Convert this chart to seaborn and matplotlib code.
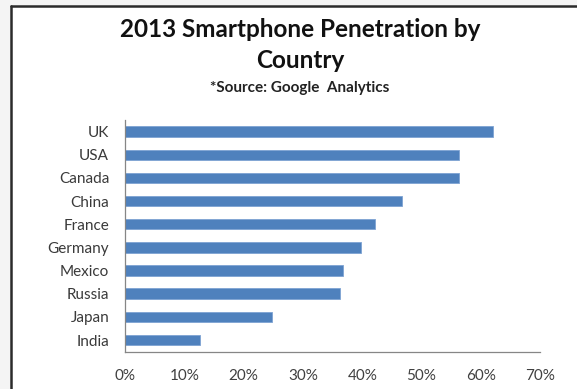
import matplotlib
matplotlib.use("Agg")
import matplotlib.pyplot as plt
from matplotlib.lines import Line2D
from matplotlib.patches import Rectangle
from matplotlib.ticker import FixedLocator, FuncFormatter
import pandas as pd
import seaborn as sns

countries = ["UK", "USA", "Canada", "China", "France", "Germany", "Mexico", "Russia", "Japan", "India"]
penetration = [62.1, 56.4, 56.4, 46.7, 42.2, 39.8, 36.7, 36.2, 24.7, 12.7]
x_ticks = [0, 10, 20, 30, 40, 50, 60, 70]

title_line1 = "2013 Smartphone Penetration by"
title_line2 = "Country"
source_text = "*Source: Google  Analytics"

sns.set_style("white")
plt.rcParams["font.family"] = ["Lato", "DejaVu Sans"]

df = pd.DataFrame({"country": countries, "penetration": penetration})

W, H = 577, 389
fig = plt.figure(figsize=(W / 100, H / 100), dpi=100)
fig.patch.set_facecolor("#f4f4f4")

# white chart area with a dark frame on the left and top
fig.patches.append(Rectangle((11.5 / W, 0), 1 - 11.5 / W, 1 - 5.5 / H,
                             transform=fig.transFigure, facecolor="white",
                             edgecolor="none", zorder=-2))
fig.lines.append(Line2D([11.5 / W, 11.5 / W], [0, 1 - 5.5 / H], transform=fig.transFigure,
                        color="#2b2b2b", lw=1.8, zorder=-1))
fig.lines.append(Line2D([11.5 / W, 1], [1 - 5.5 / H, 1 - 5.5 / H], transform=fig.transFigure,
                        color="#2b2b2b", lw=1.8, zorder=-1))

ax = fig.add_axes([125.2 / W, 1 - 351.6 / H, (540 - 125.2) / W, (351.6 - 120) / H])
ax.set_facecolor("none")

sns.barplot(data=df, x="penetration", y="country", order=countries, orient="h",
            color="#4f81bd", saturation=1, width=0.45, edgecolor="#7ea3d3",
            linewidth=0.6, ax=ax)

ax.set_xlim(0, 70)
ax.set_ylim(len(countries) - 0.5, -0.5)
ax.set_xlabel("")
ax.set_ylabel("")

ax.xaxis.set_major_locator(FixedLocator(x_ticks))
ax.xaxis.set_major_formatter(FuncFormatter(lambda v, p: f"{v:.0f}%"))
ax.tick_params(axis="x", direction="out", length=4, width=0.9, color="#868686",
               labelsize=11, labelcolor="#404040", pad=8.5)

ax.yaxis.set_minor_locator(FixedLocator([i - 0.5 for i in range(len(countries) + 1)]))
ax.tick_params(axis="y", which="major", length=0, labelsize=11, labelcolor="#3a3a3a", pad=11.5)
ax.tick_params(axis="y", which="minor", direction="out", length=4, width=0.9, color="#868686")

for side in ["top", "right"]:
    ax.spines[side].set_visible(False)
for side in ["left", "bottom"]:
    ax.spines[side].set_color("#868686")
    ax.spines[side].set_linewidth(0.9)

fig.text(300 / W, 1 - 37 / H, title_line1, ha="center", va="baseline", fontsize=17.5,
         fontweight="bold", color="#111111")
fig.text(300 / W, 1 - 68.3 / H, title_line2, ha="center", va="baseline", fontsize=17.5,
         fontweight="bold", color="#111111")
fig.text(300 / W, 1 - 92.3 / H, source_text, ha="center", va="baseline", fontsize=11,
         fontweight="bold", color="#222222")

fig.savefig("out.png", dpi=100, facecolor=fig.get_facecolor())
